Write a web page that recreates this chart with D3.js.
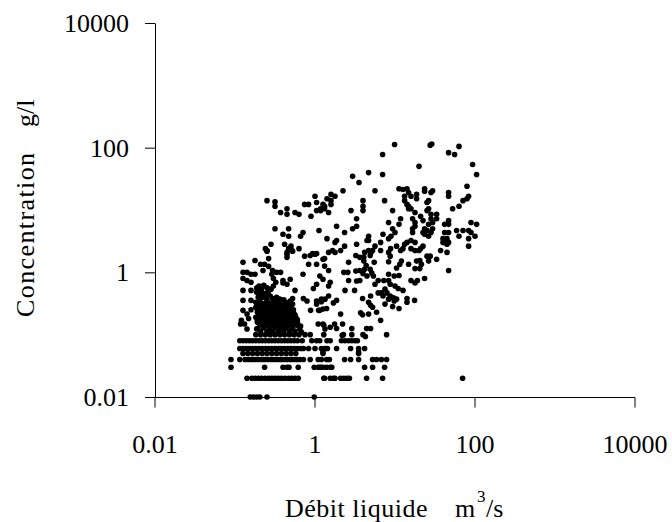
<!DOCTYPE html>
<html>
<head>
<meta charset="utf-8">
<script src="https://cdn.jsdelivr.net/npm/d3@7/dist/d3.min.js"></script>
<style>
body { margin: 0; background: #fff; }
text { font-family: "Liberation Serif", serif; fill: #000; }
</style>
</head>
<body>
<svg width="672" height="522"></svg>
<script>
// low concentrations were recorded in steps, so they fall in rows: g/l -> log10(debit)
var row001 = [-.81,-.77,-.73,-.69,-.60,-.01];
var row002 = [-.85,-.79,-.75,-.71,-.67,-.625,-.58,-.54,-.50,-.46,-.42,-.375,-.33,-.29,-.25,-.21,.11,.12,.19,.23,.25,.32,.36,.40,.43,.645,.845,1.845];
var row003 = [-1.05,-.63,-.40,-.35,-.325,-.21,-.01,.04,.06,.08,.10,.145,.19,.21,.62,.72,.87];
var row004 = [-1.05,-.94,-.875,-.83,-.79,-.75,-.71,-.67,-.63,-.59,-.55,-.51,-.47,-.43,-.39,-.35,-.31,-.27,-.23,-.19,-.145,-.06,.04,.08,.145,.18,.37,.445,.545,.72,.77,.83,.895];
var row005 = [-.90,-.84,-.78,-.72,-.66,-.60,-.54,-.48,-.42,-.36,-.30,-.24,.10,.545];
var row006 = [-.94,-.90,-.86,-.82,-.78,-.74,-.70,-.66,-.62,-.58,-.54,-.50,-.46,-.42,-.38,-.34,-.30,-.26,-.22,-.18,-.145,-.08,0,.08,.125,.155,.27,.445,.545,.62];
var row008 = [-.94,-.90,-.86,-.82,-.78,-.74,-.70,-.66,-.62,-.58,-.54,-.50,-.46,-.42,-.38,-.34,-.30,-.26,-.22,-.16,-.04,.02,.06,.15,.19,.33,.375,.42,.46,.50,.53];
var row010 = [-.74,-.68,-.62,-.56,-.50,-.44,-.38,-.32,-.26,-.20,-.125,-.06,.11,.355,.46,.60,.895];
var rowConc = [0.01, 0.02, 0.03, 0.04, 0.05, 0.06, 0.08, 0.1];
var rowDebit = [row001, row002, row003, row004, row005, row006, row008, row010];

// scattered readings, [log10(debit), log10(concentration)]
var upperLeft = [[.47,1.54],[.35,1.31],[-.60,1.15],[-.50,1.13],[-.50,1.06],[0,1.22],[.20,1.25],[.25,1.22],[.15,1.18],[.20,1.15],[.02,1.12],[-.13,1.09],[-.08,1.09],[.10,1.09],[.20,1.09],[.12,1.06],[.07,1.02],[.02,.99],[.07,.99],[.12,1.02],[.17,.96],[-.35,1.02],[-.43,.96],[-.35,.93],[-.25,.96],[-.20,.93],[-.05,.90],[.45,.99],[-.50,.70],[-.33,.70],[.05,.67],[.27,.74],[.47,.70],[-.15,.64],[-.18,.58],[-.40,.61],[-.33,.58],[.37,.64],[.15,.54],[.27,.51],[.25,.48],[-.55,.45],[-.38,.45],[-.62,.38],[-.60,.34],[-.30,.42],[-.33,.38],[-.28,.34],[-.20,.38],[-.35,.32],[.37,.42],[.32,.35],[.22,.35],[.17,.32],[.25,.32],[-.03,.30],[.02,.30]];
var upperRight = [[.995,2.05],[1.46,2.06],[1.44,2.04],[1.80,2.02],[1.67,1.92],[1.745,1.89],[.845,1.89],[1.30,1.70],[1.97,1.73],[2.02,1.57],[.67,1.60],[.845,1.57],[.55,1.44],[.75,1.31],[1.90,1.38],[1.05,1.34],[1.10,1.33],[1.15,1.34],[1.37,1.34],[1.37,1.30],[1.47,1.31],[1.45,1.28],[1.17,1.28],[1.67,1.28],[1.67,1.22],[1.12,1.22],[1.12,1.15],[1.20,1.22],[1.27,1.25],[1.27,1.18],[1.92,1.22],[1.90,1.18],[1.85,1.15],[.60,1.15],[.87,1.15],[1.42,1.15],[1.40,1.12],[.60,1.06],[.60,.99],[1.80,1.06],[1.72,1.02],[1.15,1.09],[1.17,1.06],[1.20,1.02],[1.17,1.02],[.97,.99],[1.42,1.02],[1.40,.99],[1.25,.96],[.52,.86],[1.07,.86],[1.32,.90],[1.35,.83],[1.22,.86],[1.25,.80],[1.45,.93],[1.45,.86],[1.47,.80],[1.52,.93],[1.52,.86],[.92,.80],[1.05,.77],[1.67,.83],[1.62,.77],[1.67,.77],[1.95,.80],[2.02,.77],[.52,.74],[.97,.70],[1,.64],[1.22,.70],[1.25,.74],[1.22,.64],[1.37,.70],[1.47,.70],[1.42,.77],[1.45,.64],[1.35,.64],[1.37,.61],[1.42,.58],[1.40,.67],[1.62,.64],[1.67,.64],[1.77,.67],[1.85,.67],[1.92,.67],[1.80,.58],[1.95,.64],[2,.58],[1.92,.54],[1.92,.42],[.85,.61],[.95,.58],[.92,.54],[.67,.58],[.67,.51],[.65,.51],[.82,.48],[1.60,.54],[1.65,.54],[1.62,.48],[1.67,.48],[1.60,.48],[1.65,.45],[1.20,.51],[1.15,.48],[1.12,.45],[1.25,.48],[.52,.45],[.75,.42],[1.02,.42],[.945,.38],[.92,.32],[1.10,.38],[1.07,.35],[1.20,.38],[1.25,.35],[1.35,.42],[1.32,.38],[1.30,.35],[.82,.35],[.67,.35],[.72,.35],[.62,.32],[.70,.32],[1.57,.35],[1.65,.32]];
var lowerRight = [[.12,.22],[.12,.10],[.17,.03],[.42,.16],[.51,.27],[.56,.24],[.61,.24],[.69,.27],[.74,.16],[.61,.18],[.64,.11],[.94,.26],[.92,.17],[1.08,.18],[1.06,.13],[1.02,.07],[1.17,.13],[1.27,.18],[1.31,.19],[1.40,.26],[1.44,.26],[1.33,.13],[1.25,.06],[1.31,.06],[1.42,.18],[1.52,.21],[1.67,.03],[.36,0],[.41,0],[.51,.02],[.56,.03],[.60,-.02],[.65,-.06],[.71,-.01],[.62,.05],[.69,.05],[.73,-.06],[.42,-.13],[.52,-.14],[.56,-.13],[.75,-.19],[.79,-.13],[.86,-.13],[.92,-.03],[.92,-.13],[.99,-.06],[1.05,-.05],[.94,-.19],[1,-.22],[1.04,-.26],[1.10,-.29],[1.20,-.13],[1.25,-.17],[1.28,-.13],[1.37,-.10],[.06,-.06],[.10,-.11],[.19,-.16],[.17,-.22],[.375,-.29],[.495,-.29],[.875,-.27],[.83,-.33],[.90,-.33],[.79,-.33],[.85,-.38],[.94,-.38],[.98,-.41],[1.02,-.43],[.92,-.43],[.99,-.46],[.875,-.51],[.97,-.55],[1.05,-.58],[1.15,-.42],[1.15,-.48],[1.245,-.45],[.595,-.42],[.695,-.38],[.67,-.48],[.695,-.53],[.72,-.56],[.17,-.38],[.125,-.43],[.08,-.47],[.27,-.45],[.23,-.49],[.145,-.58],[.06,-.61],[.32,-.67],[.57,-.65],[.595,-.68],[.67,-.67],[.77,-.64],[.82,-.77],[.11,-.85],[.245,-.83],[.345,-.83],[.19,-.88],[.27,-.90],[.125,-.91],[.46,-.90],[.645,-.90],[.695,-.90],[.34,-1.01],[.63,-1.03],[.545,-1.28],[.10,-1.28]];
var lowerLeft = [[-.60,.35],[-.90,.16],[-.75,.19],[-.68,.13],[-.63,.13],[-.58,.095],[-.65,.03],[-.53,.03],[-.58,.22],[-.35,.29],[-.35,.24],[-.29,.35],[-.13,.26],[-.06,.27],[0,.29],[-.08,.13],[.02,.13],[-.15,-.03],[.10,.21],[-.90,0],[-.85,0],[-.75,-.03],[-.80,-.03],[-.90,-.10],[-.85,-.13],[-.80,-.16],[-.48,0],[-.43,0],[-.54,-.03],[-.52,-.10],[-.49,-.16],[-.52,-.22],[-.40,-.13],[-.35,-.19],[-.31,-.11],[-.40,-.17],[.02,-.19],[-.02,-.26],[-.90,-.29],[-.90,-.45],[-.90,-.61],[-.92,-.77],[-.80,-.29],[-.80,-.45],[-.73,-.25],[-.67,-.27],[-.25,-.29],[-.28,-.42],[-.28,-.51],[-.145,-.42],[-.10,-.46],[.02,-.46],[.08,-.43],[-.055,-.61],[.045,-.61],[.10,-.59],[.02,-.51],[-.85,-.67],[-.83,-.74],[-.80,-.60],[-.88,-.83],[-.93,-.83],[-.85,-.91],[-.73,-.91],[.04,-.83],[.10,-.83]];
var blob = [[-.73,-.32],[-.68,-.30],[-.63,-.34],[-.58,-.30],[-.71,-.40],[-.66,-.40],[-.61,-.42],[-.56,-.38],[-.74,-.48],[-.69,-.46],[-.64,-.50],[-.59,-.47],[-.54,-.50],[-.49,-.46],[-.44,-.50],[-.39,-.44],[-.34,-.50],[-.74,-.56],[-.70,-.58],[-.65,-.55],[-.60,-.58],[-.55,-.56],[-.50,-.55],[-.45,-.58],[-.40,-.55],[-.35,-.58],[-.30,-.56],[-.72,-.64],[-.67,-.66],[-.62,-.63],[-.57,-.66],[-.52,-.64],[-.47,-.66],[-.42,-.63],[-.37,-.66],[-.32,-.64],[-.27,-.64],[-.74,-.72],[-.69,-.73],[-.64,-.71],[-.59,-.74],[-.54,-.72],[-.49,-.74],[-.44,-.72],[-.39,-.74],[-.34,-.72],[-.29,-.73],[-.24,-.72],[-.72,-.80],[-.67,-.82],[-.62,-.79],[-.57,-.82],[-.52,-.80],[-.47,-.82],[-.42,-.80],[-.37,-.82],[-.32,-.80],[-.27,-.82],[-.22,-.80],[-.72,-.90],[-.64,-.89],[-.57,-.91],[-.50,-.89],[-.43,-.91],[-.36,-.89],[-.29,-.91],[-.19,-.91]];
var blobFill = [[-.70,-.22],[-.64,-.21],[-.60,-.25],[-.55,-.27],[-.70,-.35],[-.64,-.37],[-.59,-.37],[-.53,-.42],[-.48,-.40],[-.44,-.43],[-.37,-.48],[-.31,-.46],[-.72,-.52],[-.67,-.52],[-.62,-.54],[-.57,-.52],[-.52,-.52],[-.47,-.52],[-.42,-.53],[-.37,-.53],[-.32,-.52],[-.72,-.60],[-.67,-.60],[-.62,-.60],[-.57,-.61],[-.52,-.60],[-.47,-.61],[-.42,-.60],[-.37,-.61],[-.32,-.60],[-.27,-.60],[-.70,-.69],[-.65,-.68],[-.60,-.69],[-.55,-.68],[-.50,-.69],[-.45,-.68],[-.40,-.69],[-.35,-.68],[-.30,-.69],[-.25,-.68],[-.72,-.77],[-.66,-.77],[-.61,-.76],[-.56,-.77],[-.51,-.76],[-.46,-.77],[-.41,-.76],[-.36,-.77],[-.31,-.76],[-.26,-.77],[-.22,-.76],[-.69,-.85],[-.63,-.85],[-.58,-.86],[-.53,-.85],[-.48,-.86],[-.43,-.85],[-.38,-.86],[-.33,-.85],[-.28,-.86],[-.23,-.85],[-.18,-.86],[-.68,-.94],[-.60,-.95],[-.53,-.94],[-.46,-.95],[-.39,-.94],[-.32,-.95],[-.25,-.94],[-.17,-.96]];

var xTicks = [0.01, 1, 100, 10000];
var yTicks = [0.01, 1, 100, 10000];

var points = upperLeft.concat(upperRight, lowerRight, lowerLeft, blob, blobFill).map(function (d) {
    return { debit: Math.pow(10, d[0]), conc: Math.pow(10, d[1]) };
});
rowDebit.forEach(function (row, i) {
    row.forEach(function (q) {
        points.push({ debit: Math.pow(10, q), conc: rowConc[i] });
    });
});

var svg = d3.select('svg');
var x = d3.scaleLog().domain([0.01, 10000]).range([155, 635]);
var y = d3.scaleLog().domain([0.01, 10000]).range([397, 23]);

var xAxis = d3.axisBottom(x).tickValues(xTicks).tickFormat(String).tickSize(10).tickSizeOuter(0).offset(0);
var yAxis = d3.axisLeft(y).tickValues(yTicks).tickFormat(String).tickSize(10).tickSizeOuter(0).offset(0.5);

var gx = svg.append('g').attr('transform', 'translate(0,397.5)').call(xAxis);
var gy = svg.append('g').attr('transform', 'translate(155,0)').call(yAxis);

gx.selectAll('text').attr('font-size', 26).attr('dy', 0).attr('y', 55.5).attr('text-anchor', 'middle');
gy.selectAll('text').attr('font-size', 26).attr('dy', 0).attr('x', -26).attr('y', 8.5);
svg.selectAll('.domain, .tick line').attr('stroke', '#000').attr('stroke-width', 1);

svg.selectAll('circle.pt')
    .data(points)
    .enter().append('circle')
    .attr('class', 'pt')
    .attr('cx', function (d) { return x(d.debit); })
    .attr('cy', function (d) { return y(d.conc); })
    .attr('r', 2.8)
    .attr('fill', '#000');

var xLabel = svg.append('text').attr('y', 517).attr('font-size', 26);
xLabel.append('tspan').attr('x', 285).attr('letter-spacing', 0.5).text('Débit liquide');
xLabel.append('tspan').attr('x', 455).text('m');
xLabel.append('tspan').attr('x', 477).attr('dy', -15).attr('font-size', 17).text('3');
xLabel.append('tspan').attr('x', 486).attr('dy', 15).text('/s');

var yLabel = svg.append('text').attr('transform', 'translate(34,317) rotate(-90)').attr('font-size', 26);
yLabel.append('tspan').attr('letter-spacing', 1.4).text('Concentration');
yLabel.append('tspan').attr('x', 190).text('g/l');
</script>
</body>
</html>
